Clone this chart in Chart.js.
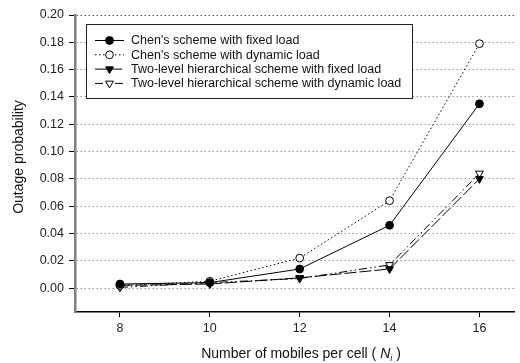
<!DOCTYPE html>
<html lang="en">
<head>
<meta charset="UTF-8">
<title>Outage probability vs number of mobiles per cell</title>
<script src="https://cdn.jsdelivr.net/npm/chart.js"></script>
<style>
  body { margin: 0; background: #fff; }
  canvas { display: block; }
</style>
</head>
<body>
<canvas id="grafico" width="520" height="363"></canvas>
<script>
// number of mobiles per cell (N_i)
const nMobiles = [8, 10, 12, 14, 16];
// outage probability
const chenFixed = [0.003, 0.004, 0.014, 0.046, 0.135];
const chenDynamic = [0.002, 0.005, 0.022, 0.064, 0.179];
const twoLevelFixed = [0.002, 0.003, 0.0075, 0.014, 0.080];
const twoLevelDynamic = [0.0005, 0.004, 0.007, 0.017, 0.084];
const seriesLabels = [
    "Chen's scheme with fixed load",
    "Chen's scheme with dynamic load",
    "Two-level hierarchical scheme with fixed load",
    "Two-level hierarchical scheme with dynamic load"
];
const xTickValues = [8, 10, 12, 14, 16];
const yTickValues = [0.00, 0.02, 0.04, 0.06, 0.08, 0.10, 0.12, 0.14, 0.16, 0.18, 0.20];

const FONT = 'Arial, "Liberation Sans", sans-serif';

function pontos(vals) {
    return nMobiles.map((n, i) => ({ x: n, y: vals[i] }));
}

function serie(label, vals, dash, style, bg, radius, rotation) {
    return {
        label: label,
        data: pontos(vals),
        borderColor: '#000',
        borderWidth: 1,
        borderDash: dash,
        pointStyle: style,
        pointRotation: rotation,
        pointRadius: radius,
        pointBackgroundColor: bg,
        pointBorderColor: '#000',
        pointBorderWidth: 1,
        tension: 0,
        fill: false,
        clip: false
    };
}

// legend box drawn inside the plot area
const legendaInterna = {
    id: 'legendaInterna',
    afterDatasetsDraw(chart) {
        const ctx = chart.ctx;
        ctx.save();
        ctx.fillStyle = '#fff';
        ctx.fillRect(86.5, 24.5, 326, 74);
        ctx.strokeStyle = '#222';
        ctx.lineWidth = 1;
        ctx.strokeRect(86.5, 24.5, 326, 74);
        chart.data.datasets.forEach((ds, i) => {
            const y = 40.5 + i * 14.3;
            ctx.strokeStyle = '#000';
            ctx.lineWidth = 1;
            ctx.setLineDash(ds.borderDash || []);
            ctx.beginPath();
            ctx.moveTo(95, y);
            ctx.lineTo(124, y);
            ctx.stroke();
            ctx.setLineDash([]);
            ctx.fillStyle = ds.pointBackgroundColor;
            Chart.helpers.drawPoint(ctx, {
                pointStyle: ds.pointStyle,
                rotation: ds.pointRotation,
                radius: ds.pointRadius,
                borderWidth: 1
            }, 109.5, y);
            ctx.fillStyle = '#111';
            ctx.font = '12.5px ' + FONT;
            ctx.textAlign = 'left';
            ctx.textBaseline = 'middle';
            ctx.fillText(ds.label, 131, y + 0.5);
        });
        ctx.restore();
    }
};

// axis titles (x title needs italic N with subscript i)
const titulosEixos = {
    id: 'titulosEixos',
    afterDraw(chart) {
        const ctx = chart.ctx;
        ctx.save();
        ctx.fillStyle = '#111';
        ctx.font = '14px ' + FONT;
        ctx.textAlign = 'center';
        ctx.textBaseline = 'middle';
        ctx.translate(19, 157);
        ctx.rotate(-Math.PI / 2);
        ctx.fillText('Outage probability', 0, 0);
        ctx.restore();

        ctx.save();
        ctx.fillStyle = '#111';
        ctx.textBaseline = 'alphabetic';
        ctx.textAlign = 'left';
        const p1 = 'Number of mobiles per cell ( ';
        const p3 = ' )';
        ctx.font = '14px ' + FONT;
        const w1 = ctx.measureText(p1).width;
        const w3 = ctx.measureText(p3).width;
        ctx.font = 'italic 14px ' + FONT;
        const wN = ctx.measureText('N').width;
        ctx.font = 'italic 9px ' + FONT;
        const wi = ctx.measureText('i').width;
        let x = 301 - (w1 + wN + wi + w3) / 2;
        const base = 358;
        ctx.font = '14px ' + FONT;
        ctx.fillText(p1, x, base); x += w1;
        ctx.font = 'italic 14px ' + FONT;
        ctx.fillText('N', x, base); x += wN;
        ctx.font = 'italic 9px ' + FONT;
        ctx.fillText('i', x, base + 3); x += wi;
        ctx.font = '14px ' + FONT;
        ctx.fillText(p3, x, base);
        ctx.restore();
    }
};

const ctx = document.getElementById('grafico').getContext('2d');
const grafico = new Chart(ctx, {
    type: 'line',
    data: {
        datasets: [
            serie(seriesLabels[0], chenFixed, [], 'circle', '#000', 3.9, 0),
            serie(seriesLabels[1], chenDynamic, [1.5, 2.5], 'circle', '#fff', 3.9, 0),
            serie(seriesLabels[2], twoLevelFixed, [12, 3], 'triangle', '#000', 4.5, 180),
            serie(seriesLabels[3], twoLevelDynamic, [8, 3, 1.5, 3, 1.5, 3], 'triangle', '#fff', 4.5, 180)
        ]
    },
    options: {
        responsive: false,
        animation: false,
        layout: { padding: { top: 15, right: 1, left: 0, bottom: 0 } },
        plugins: {
            legend: { display: false },
            tooltip: { enabled: false }
        },
        scales: {
            x: {
                type: 'linear',
                min: 7,
                max: 16.78,
                afterBuildTicks: s => { s.ticks = xTickValues.map(v => ({ value: v })); },
                afterFit: s => { s.height = 51; },
                ticks: {
                    color: '#222',
                    font: { family: FONT, size: 12.5 },
                    padding: 4,
                    maxRotation: 0,
                    callback: v => String(v)
                },
                grid: { drawOnChartArea: false, tickColor: '#000', tickLength: 5 },
                border: { color: '#000', width: 1.5 }
            },
            y: {
                min: -0.0175,
                max: 0.20,
                afterBuildTicks: s => { s.ticks = yTickValues.map(v => ({ value: v })); },
                afterFit: s => { s.width = 75; },
                ticks: {
                    color: '#222',
                    font: { family: FONT, size: 12.5 },
                    padding: 5,
                    callback: v => v.toFixed(2)
                },
                grid: {
                    color: c => (c.tick && c.tick.value === 0.20) ? '#555' : '#999',
                    lineWidth: 1,
                    tickColor: '#000',
                    tickLength: 6,
                    tickBorderDash: []
                },
                border: { color: '#808080', width: 2.5, dash: [1.5, 2.5] }
            }
        }
    },
    plugins: [legendaInterna, titulosEixos]
});
</script>
</body>
</html>
